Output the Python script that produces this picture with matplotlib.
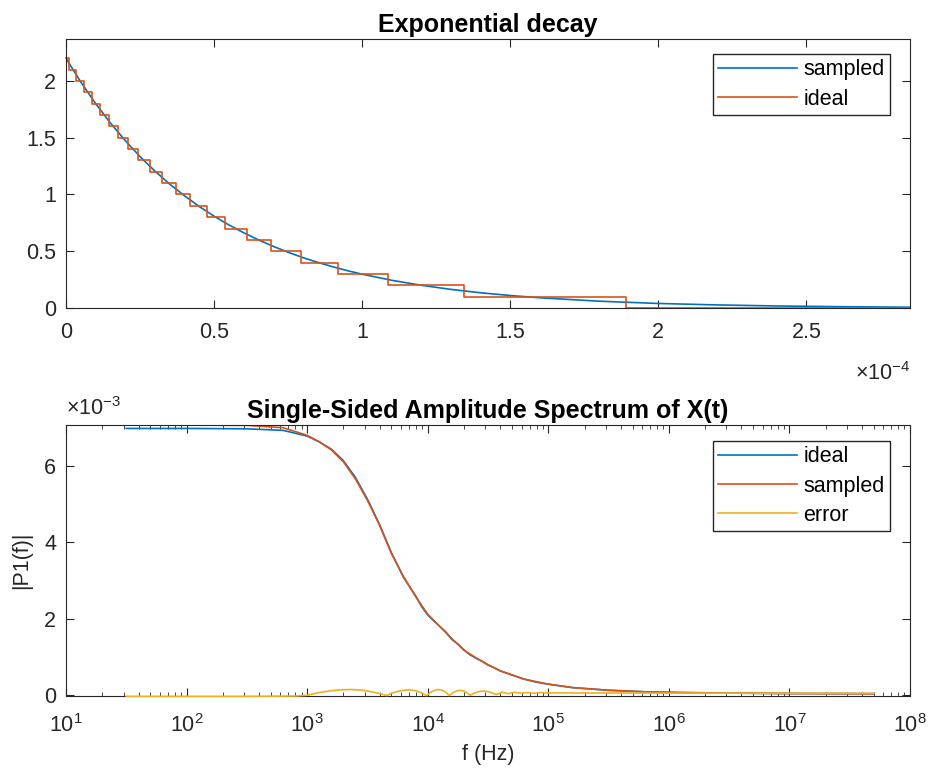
import numpy as np
import matplotlib
matplotlib.use("Agg")
import matplotlib.pyplot as plt
from matplotlib.ticker import (FuncFormatter, FixedLocator, NullFormatter,
                               LogFormatterSciNotation)

plt.rcParams['font.family'] = ['Liberation Sans', 'DejaVu Sans']
plt.rcParams['mathtext.fontset'] = 'custom'
plt.rcParams['mathtext.rm'] = 'Liberation Sans'
plt.rcParams['mathtext.it'] = 'Liberation Sans:italic'
plt.rcParams['mathtext.bf'] = 'Liberation Sans:bold'

# --- top panel: exponential decay (time in s) ---
t_sampled = np.array([0.00, 0.05, 0.10, 0.15, 0.20, 0.25, 0.30, 0.35, 0.40, 0.45,
                      0.50, 0.55, 0.60, 0.65, 0.70, 0.75, 0.80, 0.85, 0.90, 0.95,
                      1.00, 1.10, 1.20, 1.30, 1.40, 1.50, 1.60, 1.80, 2.00, 2.20,
                      2.40, 2.60, 2.85]) * 1e-4
v_sampled = [2.200, 1.991, 1.801, 1.630, 1.475, 1.334, 1.207, 1.092, 0.989, 0.894,
             0.809, 0.732, 0.663, 0.600, 0.543, 0.491, 0.444, 0.402, 0.364, 0.329,
             0.298, 0.244, 0.200, 0.164, 0.134, 0.110, 0.090, 0.060, 0.040, 0.027,
             0.018, 0.012, 0.007]

# switching instants of the quantised ("ideal") trace and its levels
t_ideal = np.array([0.0, 0.0115, 0.0353, 0.0603, 0.0866, 0.1144, 0.1438, 0.1751,
                    0.2085, 0.2442, 0.2827, 0.3243, 0.3698, 0.4199, 0.4755, 0.5381,
                    0.6096, 0.6931, 0.7935, 0.9191, 1.0874, 1.3428, 1.8921, 2.85]) * 1e-4
v_ideal = [2.2, 2.1, 2.0, 1.9, 1.8, 1.7, 1.6, 1.5, 1.4, 1.3, 1.2, 1.1, 1.0, 0.9,
           0.8, 0.7, 0.6, 0.5, 0.4, 0.3, 0.2, 0.1, 0.0, 0.0]

# --- bottom panel: single-sided spectrum (values in units of 1e-3) ---
f_sampled = [31.6, 100, 316, 631, 1000, 1259, 1585, 1995, 2512, 3162, 3981, 5012,
             6310, 7943, 1e4, 1.259e4, 1.585e4, 1.995e4, 2.512e4, 3.162e4, 3.981e4,
             6.31e4, 1e5, 1.585e5, 3.162e5, 6.31e5, 1.259e6, 3.162e6, 1e7, 5e7]
p_sampled = [7.07, 7.07, 7.06, 7.00, 6.80, 6.63, 6.42, 6.11, 5.66, 5.10, 4.45, 3.70,
             3.10, 2.58, 2.12, 1.80, 1.48, 1.18, 0.98, 0.80, 0.64,
             0.42, 0.29, 0.20, 0.13, 0.09, 0.07, 0.055, 0.045, 0.04]

f_ideal = [31.6, 100, 316, 631, 1000, 1259, 1585, 1995, 2512, 3162, 3981, 5012,
           6310, 7943, 8900, 1e4, 1.12e4, 1.259e4, 1.41e4, 1.585e4, 1.78e4, 1.995e4,
           2.24e4, 2.512e4, 2.82e4, 3.162e4, 3.55e4, 3.981e4, 5e4, 6.31e4, 8e4, 1e5,
           1.585e5, 3.162e5, 6.31e5, 1.259e6, 3.162e6, 1e7, 5e7]
p_ideal = [6.98, 6.98, 6.97, 6.93, 6.78, 6.63, 6.44, 6.14, 5.70, 5.13, 4.47, 3.72,
           3.08, 2.60, 2.32, 2.10, 1.95, 1.80, 1.66, 1.46, 1.34, 1.19,
           1.06, 0.97, 0.89, 0.79, 0.72, 0.64, 0.53, 0.42, 0.34, 0.29,
           0.20, 0.13, 0.09, 0.07, 0.055, 0.045, 0.04]

f_error = [31.6, 300, 800, 1000, 1259, 1585, 1995, 2291, 2818, 3548, 4169, 4571,
           5012, 5623, 6310, 7079, 7943, 8913, 9772, 10715, 11482, 12303, 13183,
           14125, 15136, 16218, 17378, 18621, 19953, 21380, 22387, 24547, 26915,
           29512, 32359, 35481, 37154, 41687, 46774, 52481, 58884, 66069, 75858,
           87096, 1e5, 5e7]
p_error = [-0.03, -0.03, -0.02, 0.00, 0.07, 0.12, 0.145, 0.15, 0.135, 0.08, 0.03, -0.01,
           0.05, 0.10, 0.13, 0.14, 0.12, 0.06, -0.01, 0.09, 0.13, 0.15, 0.13,
           0.08, -0.01, 0.07, 0.11, 0.13, 0.11, 0.05, 0.00, 0.06, 0.10,
           0.11, 0.09, 0.04, 0.02, 0.08, 0.04, 0.08, 0.05, 0.07, 0.05,
           0.07, 0.06, 0.05]

freq_ticks = [1e1, 1e2, 1e3, 1e4, 1e5, 1e6, 1e7, 1e8]

c_blue = '#0072BD'
c_orange = '#D95319'
c_yellow = '#EDB120'
c_axis = '#262626'
fs = 15.5
fs_title = 18

fig = plt.figure(figsize=(9.3, 7.73), dpi=100)
ax1 = fig.add_axes([66 / 930, 1 - 308 / 773, 844 / 930, 269 / 773])
ax2 = fig.add_axes([66 / 930, 1 - 696 / 773, 844 / 930, 271 / 773])

for ax in (ax1, ax2):
    ax.tick_params(direction='in', top=True, right=True, labelsize=fs,
                   colors=c_axis, length=6, width=0.8)
    ax.tick_params(which='minor', direction='in', top=True, right=True,
                   length=3, width=0.6, colors=c_axis)
    ax.tick_params(axis='y', pad=7)
    for s in ax.spines.values():
        s.set_color(c_axis)
        s.set_linewidth(0.8)

leg_kw = dict(loc='upper right', borderaxespad=0, fontsize=fs, fancybox=False,
              edgecolor=c_axis, framealpha=1, handlelength=3.67, handletextpad=0.3,
              labelspacing=0.38, borderpad=0.25)

# top panel
ax1.plot(t_sampled, v_sampled, color=c_blue, lw=1.2, label='sampled')
ax1.step(t_ideal, v_ideal, where='post', color=c_orange, lw=1.2, label='ideal',
         clip_on=False)
ax1.set_xlim(0, 2.85e-4)
ax1.set_ylim(0, 2.37)
ax1.tick_params(axis='x', pad=10)
ax1.xaxis.set_major_locator(FixedLocator(np.array([0, 0.5, 1, 1.5, 2, 2.5]) * 1e-4))
ax1.xaxis.set_major_formatter(FuncFormatter(lambda v, p: '%g' % round(v / 1e-4, 3)))
ax1.yaxis.set_major_locator(FixedLocator([0, 0.5, 1, 1.5, 2]))
ax1.yaxis.set_major_formatter(FuncFormatter(lambda v, p: '%g' % v))
ax1.set_title('Exponential decay', fontsize=fs_title, fontweight='bold', pad=5)
ax1.text(1.0, -0.2, r'$\times10^{-4}$', transform=ax1.transAxes, ha='right',
         va='top', fontsize=fs, color=c_axis)
ax1.legend(bbox_to_anchor=(0.9763, 0.944), **leg_kw)

# bottom panel
ax2.plot(f_ideal, np.array(p_ideal) * 1e-3, color=c_blue, lw=1.2, label='ideal')
ax2.plot(f_sampled, np.array(p_sampled) * 1e-3, color=c_orange, lw=1.2, label='sampled')
ax2.plot(f_error, np.array(p_error) * 1e-3, color=c_yellow, lw=1.2, label='error',
         clip_on=False, zorder=3)
ax2.set_xscale('log')
ax2.set_xlim(10, 1e8)
ax2.set_ylim(-0.02e-3, 7.07e-3)
ax2.tick_params(axis='x', pad=13)
ax2.xaxis.set_major_locator(FixedLocator(freq_ticks))
ax2.xaxis.set_major_formatter(LogFormatterSciNotation())
minor = [m * d for d in freq_ticks[:-1] for m in range(2, 10)]
ax2.xaxis.set_minor_locator(FixedLocator(minor))
ax2.xaxis.set_minor_formatter(NullFormatter())
ax2.yaxis.set_major_locator(FixedLocator(np.array([0, 2, 4, 6]) * 1e-3))
ax2.yaxis.set_major_formatter(FuncFormatter(lambda v, p: '%g' % round(v / 1e-3, 3)))
ax2.set_title('Single-Sided Amplitude Spectrum of X(t)', fontsize=fs_title,
              fontweight='bold', pad=5)
ax2.set_xlabel('f (Hz)', fontsize=fs, color=c_axis, labelpad=5)
ax2.set_ylabel('|P1(f)|', fontsize=fs, color=c_axis, labelpad=9)
ax2.text(0.0, 1.02, r'$\times10^{-3}$', transform=ax2.transAxes, ha='left',
         va='bottom', fontsize=fs, color=c_axis)
ax2.legend(bbox_to_anchor=(0.9763, 0.941), **leg_kw)

fig.savefig('out.png', dpi=100)
